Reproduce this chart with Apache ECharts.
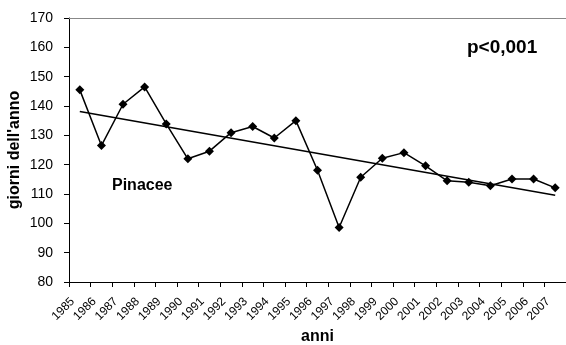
<!DOCTYPE html>
<html><head><meta charset="utf-8">
<script src="https://cdn.jsdelivr.net/npm/echarts@6/dist/echarts.min.js"></script>
<style>html,body{margin:0;padding:0;background:#fff}#c{width:566px;height:345px}</style>
</head><body><div id="c"></div>
<script>
const years = ['1985','1986','1987','1988','1989','1990','1991','1992','1993','1994','1995','1996','1997','1998','1999','2000','2001','2002','2003','2004','2005','2006','2007'];
const giorni = [145.5,126.5,140.6,146.5,133.9,122,124.6,130.9,133,129.1,135,118.1,98.6,115.7,122.2,124.1,119.6,114.5,114,112.8,115.1,115.1,112.1];
const trendStart = 138.1, trendEnd = 109.6;
const trend = years.map((y,i)=> i===0 ? trendStart : (i===years.length-1 ? trendEnd : '-'));
const yTicks = {min:80, max:170, interval:10};
const font = 'Liberation Sans, Arial, sans-serif';
const chart = echarts.init(document.getElementById('c'), null, {renderer:'canvas'});
chart.setOption({
  animation:false,
  grid:{left:69, right:0, top:18, bottom:63, containLabel:false, outerBoundsMode:'none'},
  xAxis:[{
    type:'category', data:years, boundaryGap:true,
    name:'anni', nameLocation:'middle', nameGap:47, nameMoveOverlap:false,
    nameTextStyle:{fontFamily:font, fontWeight:'bold', fontSize:16, color:'#000'},
    axisLine:{lineStyle:{color:'#000', width:1}},
    axisTick:{show:true, length:5, lineStyle:{color:'#000'}, alignWithLabel:false},
    axisLabel:{rotate:45, fontFamily:font, fontSize:12, color:'#000', margin:19, interval:0, align:'right', verticalAlign:'bottom', padding:[0,4,0,0], hideOverlap:false},
    splitLine:{show:false}
  },{
    type:'category', data:years, position:'top',
    axisLine:{show:true, lineStyle:{color:'#888', width:1}},
    axisTick:{show:false}, axisLabel:{show:false}, splitLine:{show:false}
  }],
  yAxis:{
    type:'value', min:yTicks.min, max:yTicks.max, interval:yTicks.interval,
    name:"giorni dell'anno", nameLocation:'middle', nameGap:46, nameMoveOverlap:false,
    nameTextStyle:{fontFamily:font, fontWeight:'bold', fontSize:16, color:'#000'},
    axisLine:{show:true, lineStyle:{color:'#000', width:1}},
    axisTick:{show:true, length:5, lineStyle:{color:'#000'}},
    axisLabel:{fontFamily:font, fontSize:14, color:'#000', margin:16},
    splitLine:{show:false}
  },
  series:[{
    type:'line', data:giorni, symbol:'diamond', symbolSize:9,
    lineStyle:{color:'#000', width:1.5}, itemStyle:{color:'#000'}
  },{
    type:'line', data:trend, connectNulls:true, symbol:'none',
    lineStyle:{color:'#000', width:1.5}
  }],
  graphic:[
    {type:'text', left:467, top:38, style:{text:'p<0,001', fontFamily:font, fontWeight:'bold', fontSize:19, fill:'#000'}},
    {type:'text', left:112, top:178, style:{text:'Pinacee', fontFamily:font, fontWeight:'bold', fontSize:16, fill:'#000'}}
  ]
});
</script></body></html>
